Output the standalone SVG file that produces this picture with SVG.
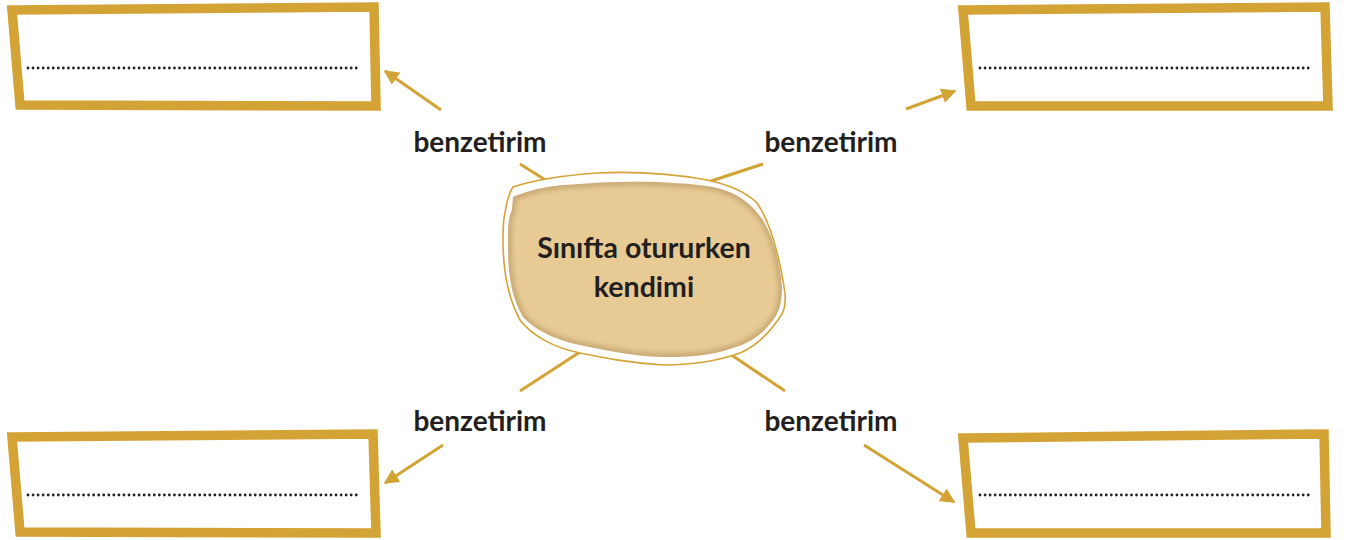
<svg xmlns="http://www.w3.org/2000/svg" width="1349" height="540" viewBox="0 0 1349 540">
<style>
.box{fill:#fff;stroke:#d4a335;stroke-width:9.5;stroke-linejoin:miter}
.dots{stroke:#231f20;stroke-width:2.8;stroke-linecap:round;stroke-dasharray:0 5.05;fill:none}
.con{stroke:#d4a335;stroke-width:3;fill:none}
.lbl{font-family:Lato,"Open Sans","DejaVu Sans",sans-serif;font-weight:700;font-size:28px;fill:#231f20;text-anchor:middle}
.ctr{font-family:Lato,"Open Sans","DejaVu Sans",sans-serif;font-weight:700;font-size:28.5px;fill:#231f20;text-anchor:middle}
</style>
<defs>
<marker id="ah" viewBox="0 0 10 10" refX="9" refY="5" markerWidth="5" markerHeight="5" markerUnits="strokeWidth" orient="auto">
<path d="M0,0 L10,5 L0,10 Z" fill="#d4a335"/>
</marker>
<filter id="blur" x="-20%" y="-20%" width="140%" height="140%"><feGaussianBlur stdDeviation="2.5"/></filter>
<clipPath id="bc"><path d="M513,197 C540,186 560,185 580,184 C630,180 680,182 713,187 C740,193 752,205 763,220 C775,240 780,265 782,287 C782,300 780,312 773,320 C762,335 750,343 733,348 C710,356 690,357 663,357 C630,356 605,350 580,345 C555,340 535,330 523,317 C510,295 508,270 508,243 C508,228 508,218 512,210 Z"/></clipPath>
</defs>
<rect width="1349" height="540" fill="#fff"/>
<g id="connectors">
<line class="con" x1="441" y1="110" x2="385" y2="71" marker-end="url(#ah)"/>
<line class="con" x1="520" y1="164" x2="547" y2="181"/>
<line class="con" x1="906" y1="109" x2="955" y2="91" marker-end="url(#ah)"/>
<line class="con" x1="763" y1="164" x2="705" y2="183"/>
<line class="con" x1="580" y1="352" x2="520" y2="391"/>
<line class="con" x1="443" y1="445" x2="385" y2="483" marker-end="url(#ah)"/>
<line class="con" x1="730" y1="354" x2="785" y2="391"/>
<line class="con" x1="864" y1="445" x2="954" y2="502" marker-end="url(#ah)"/>
</g>
<g id="center">
<path d="M513,187 C540,178 570,175 597,173 C640,171 680,175 707,180 C735,186 748,194 757,203 C772,225 780,260 785,293 C786,305 784,312 780,317 C768,335 756,346 740,353 C715,362 690,365 663,365 C630,363 605,358 580,353 C555,348 532,336 520,320 C508,298 503,270 503,240 C503,228 503,220 505,213 C507,200 509,193 513,187 Z" fill="#fff" stroke="#d4a335" stroke-width="1.6"/>
<path d="M513,197 C540,186 560,185 580,184 C630,180 680,182 713,187 C740,193 752,205 763,220 C775,240 780,265 782,287 C782,300 780,312 773,320 C762,335 750,343 733,348 C710,356 690,357 663,357 C630,356 605,350 580,345 C555,340 535,330 523,317 C510,295 508,270 508,243 C508,228 508,218 512,210 Z" fill="#e8cb94"/>
<g clip-path="url(#bc)"><path d="M513,197 C540,186 560,185 580,184 C630,180 680,182 713,187 C740,193 752,205 763,220 C775,240 780,265 782,287 C782,300 780,312 773,320 C762,335 750,343 733,348 C710,356 690,357 663,357 C630,356 605,350 580,345 C555,340 535,330 523,317 C510,295 508,270 508,243 C508,228 508,218 512,210 Z" fill="none" stroke="#a88452" stroke-width="7" opacity="0.5" filter="url(#blur)"/></g>
<text class="ctr" x="644" y="258">Sınıfta otururken</text>
<text class="ctr" x="644" y="297">kendimi</text>
</g>
<g id="box-tl">
<path class="box" d="M12,10 L374,7 L376,106 L20,105 Z"/>
<line class="dots" x1="28" y1="68" x2="359" y2="68"/>
</g>
<g id="box-tr">
<path class="box" d="M963,10 L1325,7 L1328,106 L971,106 Z"/>
<line class="dots" x1="980" y1="68" x2="1311" y2="68"/>
</g>
<g id="box-bl">
<path class="box" d="M12,437 L373,434 L376,533 L20,532 Z"/>
<line class="dots" x1="28" y1="495" x2="359" y2="495"/>
</g>
<g id="box-br">
<path class="box" d="M963,438 L1324,434 L1326,533 L971,533 Z"/>
<line class="dots" x1="980" y1="495" x2="1311" y2="495"/>
</g>
<g id="labels">
<text class="lbl" x="480" y="152">benzetirim</text>
<text class="lbl" x="831" y="152">benzetirim</text>
<text class="lbl" x="480" y="431">benzetirim</text>
<text class="lbl" x="831" y="431">benzetirim</text>
</g>
</svg>
